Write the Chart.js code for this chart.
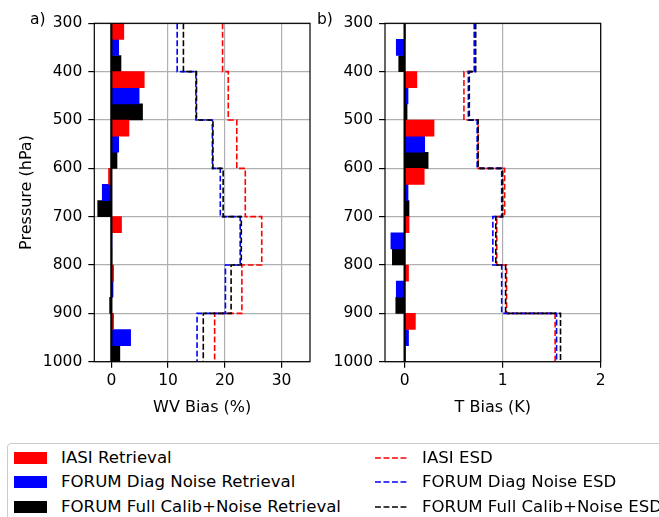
<!DOCTYPE html>
<html><head><meta charset="utf-8">
<script src="https://cdn.jsdelivr.net/npm/chart.js@4.4.0/dist/chart.umd.min.js"></script>
<style>
html,body{margin:0;padding:0;background:#fff;width:659px;height:517px;overflow:hidden;font-family:"DejaVu Sans",sans-serif;color:#000;}
#wrap{position:relative;width:659px;height:517px;overflow:hidden;}
canvas{position:absolute;top:0;}
.plabel{position:absolute;font-size:15.5px;line-height:18px;white-space:nowrap;}
#legend{position:absolute;left:7px;top:443px;width:720px;height:110px;border:1px solid #cccccc;border-radius:4px;box-sizing:border-box;background:#fff;}
.item{position:absolute;font-size:16.6px;line-height:18px;white-space:nowrap;}
.patch{position:absolute;width:33px;height:12px;}
svg.dash{position:absolute;width:34px;height:4px;overflow:visible;}
</style></head><body>
<div id="wrap">
<canvas id="c1" width="330" height="430" style="left:0px"></canvas>
<canvas id="c2" width="330" height="430" style="left:300px"></canvas>
<div class="plabel" style="left:30px;top:10px">a)</div>
<div class="plabel" style="left:317px;top:10px">b)</div>
<div id="legend"></div>
</div>
<script>
// ---- data ----
const levels = [300, 400, 500, 600, 700, 800, 900, 1000];
const pressureTicks = [300, 400, 500, 600, 700, 800, 900, 1000];
const wvTicks = [0, 10, 20, 30];
const tTicks = [0, 1, 2];
const barNames = ['IASI Retrieval', 'FORUM Diag Noise Retrieval', 'FORUM Full Calib+Noise Retrieval'];
const esdNames = ['IASI ESD', 'FORUM Diag Noise ESD', 'FORUM Full Calib+Noise ESD'];
const seriesColors = ['#ff0000', '#0000ff', '#000000'];

const wvIasiBias = [2.2, 5.8, 3.1, -0.5, 1.8, 0.4, 0.4];
const wvDiagBias = [1.3, 4.9, 1.3, -1.6, 0.1, 0.3, 3.4];
const wvFullBias = [1.7, 5.5, 1.0, -2.4, 0.05, -0.3, 1.5];
const wvIasiEsd = [19.6, 20.6, 22.1, 23.6, 26.5, 23.0, 18.2];
const wvDiagEsd = [11.6, 14.9, 17.8, 19.2, 22.7, 20.1, 15.1];
const wvFullEsd = [12.7, 15.0, 17.9, 19.7, 22.9, 21.1, 16.2];

const tIasiBias = [0.005, 0.125, 0.30, 0.20, 0.045, 0.04, 0.11];
const tDiagBias = [-0.085, 0.035, 0.205, 0.035, -0.14, -0.085, 0.04];
const tFullBias = [-0.06, 0.025, 0.24, 0.045, -0.125, -0.09, 0.005];
const tIasiEsd = [0.72, 0.605, 0.75, 1.02, 0.94, 1.04, 1.535];
const tDiagEsd = [0.71, 0.65, 0.74, 0.99, 0.90, 0.99, 1.55];
const tFullEsd = [0.725, 0.66, 0.75, 1.00, 0.93, 1.03, 1.59];

// ---- helpers ----
const FONT = '"DejaVu Sans", sans-serif';
function barPoints(vals, k) {
  return vals.map((v, i) => {
    const top = levels[i], bot = levels[i + 1];
    return { x: v, y: top + (bot - top) * (k + 0.5) / 3 };
  });
}
function stepPoints(vals) {
  const pts = [];
  vals.forEach((v, i) => { pts.push({ x: v, y: levels[i] }); pts.push({ x: v, y: levels[i + 1] }); });
  return pts;
}
const frame = {
  id: 'frame',
  afterDraw(chart) {
    const { ctx, chartArea: a } = chart;
    ctx.save();
    ctx.strokeStyle = '#000';
    ctx.lineWidth = 1.2;
    ctx.strokeRect(a.left, a.top, a.right - a.left, a.bottom - a.top);
    ctx.restore();
  }
};
function makeChart(id, biases, esds, xr, xTicks, xTitle, yTitle, yWidth, rightPad) {
  const H = 430, areaBottom = 361.7;
  const datasets = [];
  datasets.push({ type: 'line', data: [{ x: 0, y: levels[0] }, { x: 0, y: levels[levels.length - 1] }],
    borderColor: '#000', borderWidth: 2.2, pointRadius: 0, order: 1 });
  esds.forEach((vals, k) => {
    datasets.push({ type: 'line', label: esdNames[k], data: stepPoints(vals), borderColor: seriesColors[k],
      borderWidth: 1.6, borderDash: [5.9, 2.6], pointRadius: 0, fill: false, tension: 0, order: 5 - k });
  });
  biases.forEach((vals, k) => {
    datasets.push({ type: 'bar', label: barNames[k], data: barPoints(vals, k), backgroundColor: seriesColors[k],
      borderWidth: 0, grouped: false, barPercentage: 1, categoryPercentage: 1, order: 10 });
  });
  return new Chart(document.getElementById(id), {
    data: { datasets },
    plugins: [frame],
    options: {
      indexAxis: 'y', responsive: false, animation: false,
      layout: { padding: { top: 23.3, right: rightPad, bottom: 0, left: 0 } },
      plugins: { legend: { display: false }, tooltip: { enabled: false }, title: { display: false } },
      scales: {
        x: {
          type: 'linear', position: 'bottom', min: xr[0], max: xr[1], offset: false,
          afterBuildTicks(s) { s.ticks = xTicks.map(v => ({ value: v })); },
          ticks: { color: '#000', font: { family: FONT, size: 15.5 }, padding: 4, maxRotation: 0, autoSkip: false,
            callback: v => String(v) },
          grid: { color: '#b0b0b0', lineWidth: 1.2, tickLength: 6, tickColor: '#000', tickWidth: 1.2, drawTicks: true, offset: false },
          border: { display: false },
          title: { display: true, text: xTitle, color: '#000', font: { family: FONT, size: 16 }, padding: { top: 0, bottom: 13 } },
          afterFit(s) { s.height = H - areaBottom; }
        },
        y: {
          type: 'linear', position: 'left', reverse: true, min: levels[0], max: levels[levels.length - 1], offset: false,
          afterBuildTicks(s) { s.ticks = pressureTicks.map(v => ({ value: v })); },
          ticks: { color: '#000', font: { family: FONT, size: 15.5 }, padding: 6, autoSkip: false,
            callback: v => String(v) },
          grid: { color: '#b0b0b0', lineWidth: 1.2, tickLength: 6, tickColor: '#000', tickWidth: 1.2, drawTicks: true, offset: false },
          border: { display: false },
          title: { display: !!yTitle, text: yTitle || '', color: '#000', font: { family: FONT, size: 16 }, padding: { top: 17, bottom: 0 } },
          afterFit(s) { s.width = yWidth; }
        }
      }
    }
  });
}
makeChart('c1', [wvIasiBias, wvDiagBias, wvFullBias], [wvIasiEsd, wvDiagEsd, wvFullEsd],
  [-3, 35], wvTicks, 'WV Bias (%)', 'Pressure (hPa)', 94.3, 20);
makeChart('c2', [tIasiBias, tDiagBias, tFullBias], [tIasiEsd, tDiagEsd, tFullEsd],
  [-0.2, 2], tTicks, 'T Bias (K)', '', 85, 29.3);

// ---- legend ----
const leg = document.getElementById('legend');
const rowY = [13.7, 38, 63]; // centres relative to legend box
const NS = 'http://www.w3.org/2000/svg';
barNames.forEach((n, k) => {
  const p = document.createElement('div'); p.className = 'patch';
  p.style.left = '6px'; p.style.top = (rowY[k] - 6) + 'px'; p.style.background = seriesColors[k];
  leg.appendChild(p);
  const t = document.createElement('div'); t.className = 'item'; t.textContent = n;
  t.style.left = '53px'; t.style.top = (rowY[k] - 9) + 'px'; leg.appendChild(t);
});
esdNames.forEach((n, k) => {
  const s = document.createElementNS(NS, 'svg'); s.setAttribute('class', 'dash');
  s.setAttribute('width', '34'); s.setAttribute('height', '4');
  s.style.left = '367px'; s.style.top = (rowY[k] - 2) + 'px';
  const l = document.createElementNS(NS, 'line');
  l.setAttribute('x1', '0'); l.setAttribute('x2', '34'); l.setAttribute('y1', '2'); l.setAttribute('y2', '2');
  l.setAttribute('stroke', seriesColors[k]); l.setAttribute('stroke-width', '1.6');
  l.setAttribute('stroke-dasharray', '5.9 2.6');
  s.appendChild(l); leg.appendChild(s);
  const t = document.createElement('div'); t.className = 'item'; t.textContent = n;
  t.style.left = '414px'; t.style.top = (rowY[k] - 9) + 'px'; leg.appendChild(t);
});
</script>
</body></html>
